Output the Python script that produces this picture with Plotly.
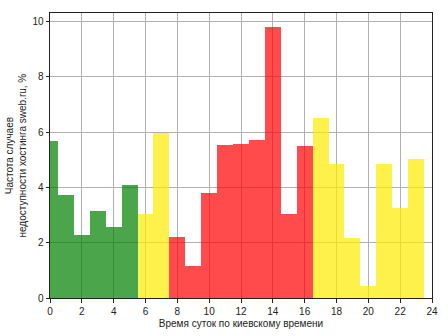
import plotly.graph_objects as go

hours = list(range(24))
freq = [5.69, 3.73, 2.28, 3.15, 2.57, 4.09, 3.04, 5.98, 2.21, 1.16, 3.80, 5.54,
        5.58, 5.72, 9.82, 3.04, 5.51, 6.52, 4.86, 2.17, 0.43, 4.86, 3.26, 5.04]
period = ["night"] * 6 + ["morning"] * 2 + ["day"] * 9 + ["evening"] * 7
palette = {"night": "rgb(0,128,0)", "morning": "rgb(255,236,0)",
           "day": "rgb(255,0,0)", "evening": "rgb(255,236,0)"}

fig = go.Figure(go.Bar(
    x=hours, y=freq, width=1,
    marker=dict(color=[palette[p] for p in period], line=dict(width=0)),
    opacity=0.7, showlegend=False,
))

font = dict(family="Liberation Sans, Arial, sans-serif", size=10, color="#222")
axis_common = dict(showline=True, linecolor="#222", linewidth=1, mirror=True,
                   ticks="outside", ticklen=3.5, tickcolor="#222",
                   showgrid=True, gridcolor="#b0b0b0", gridwidth=0.8,
                   zeroline=False, tickfont=font, automargin=False)
fig.update_xaxes(range=[0, 24], tickvals=list(range(0, 25, 2)),
                 title=dict(text="Время суток по киевскому времени", font=font, standoff=4),
                 **axis_common)
fig.update_yaxes(range=[0, 10.31], tickvals=list(range(0, 11, 2)), **axis_common)

# y-axis title as a rotated two-line annotation
fig.add_annotation(text="Частота случаев<br>недоступности хостинга sweb.ru, %",
                   xref="paper", yref="paper", x=0, y=0.5, xanchor="right",
                   yanchor="middle", xshift=-21, textangle=-90, showarrow=False,
                   font=font)
fig.update_layout(width=448, height=336, margin=dict(l=50, r=16, t=13, b=38),
                  plot_bgcolor="white", paper_bgcolor="white", font=font, bargap=0)
fig.write_html("out.html")
